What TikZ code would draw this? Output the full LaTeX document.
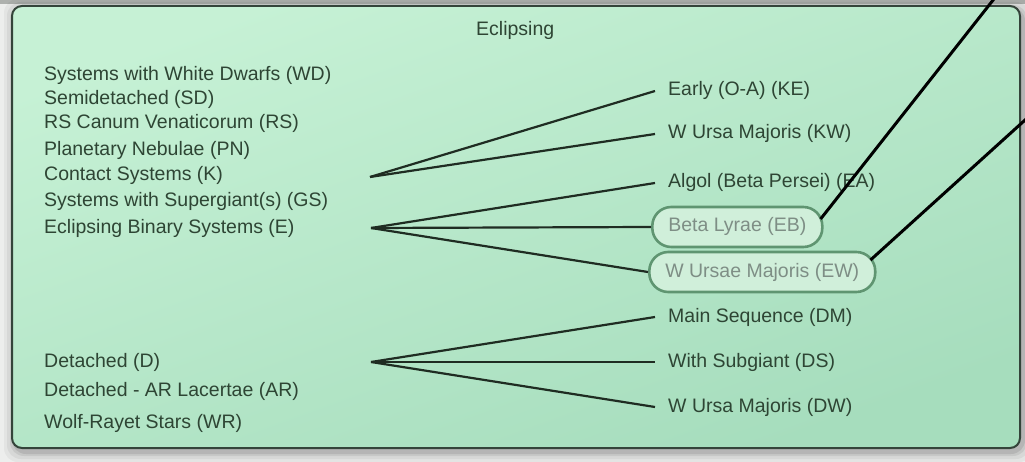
\documentclass[tikz,border=0pt]{standalone}
\usepackage{fontspec}
\setmainfont{Liberation Sans}
\definecolor{pagebg}{HTML}{EDEEED}
\definecolor{topband}{HTML}{AEB1AE}
\definecolor{panelTop}{HTML}{C6F1D5}
\definecolor{panelBot}{HTML}{A6DDBD}
\definecolor{panelEdge}{HTML}{34443A}
\definecolor{txt}{HTML}{2E4534}
\definecolor{conncol}{HTML}{1F2C22}
\definecolor{pillfill}{HTML}{D0EFDA}
\definecolor{pilledge}{HTML}{5F9571}
\definecolor{pilltxt}{HTML}{7E8E85}
\tikzset{
  lbl/.style={anchor=west, inner sep=0pt, text=txt,
    font=\fontsize{19.5}{22}\selectfont, text height=14pt, text depth=4pt},
  pill/.style={lbl, draw=pilledge, line width=2.6pt, fill=pillfill,
    rounded corners=19pt, minimum height=40pt, inner xsep=16pt, text=pilltxt},
  conn/.style={draw=conncol, line width=2.2pt},
  leader/.style={draw=black, line width=3pt}
}
\begin{document}
\begin{tikzpicture}[x=1pt,y=-1pt]
\useasboundingbox (0,0) rectangle (1025,462);
\clip (0,0) rectangle (1025,462);
% page and soft shadow behind the panel
\fill[pagebg] (0,0) rectangle (1025,462);
\fill[topband] (0,0) rectangle (1025,4);
\foreach \i/\o in {10/0.04,7/0.05,4/0.07,2/0.09}
  \fill[black,opacity=\o,rounded corners=14pt] ({14-\i},{9-\i}) rectangle ({1023+\i},{452+\i});
% panel
\shade[top color=panelTop, bottom color=panelBot, shading angle=20, rounded corners=10pt]
  (12,6) rectangle (1020,448);
\draw[panelEdge, line width=2pt, rounded corners=10pt] (12,6) rectangle (1020,448);

\node[lbl] (title) at (476,31) {Eclipsing};

% left column
\node[lbl] (wd) at (44,76) {Systems with White Dwarfs (WD)};
\node[lbl] (sd) at (44,100) {Semidetached (SD)};
\node[lbl] (rs) at (44,124) {RS Canum Venaticorum (RS)};
\node[lbl] (pn) at (44,151) {Planetary Nebulae (PN)};
\node[lbl] (k)  at (44,176) {Contact Systems (K)};
\node[lbl] (gs) at (44,202) {Systems with Supergiant(s) (GS)};
\node[lbl] (e)  at (44,229) {Eclipsing Binary Systems (E)};
\node[lbl] (d)  at (44,362) {Detached (D)};
\node[lbl] (ar) at (44,391) {Detached - AR Lacertae (AR)};
\node[lbl] (wr) at (44,423) {Wolf-Rayet Stars (WR)};

% right column
\node[lbl] (ke) at (668,91) {Early (O-A) (KE)};
\node[lbl] (kw) at (668,134) {W Ursa Majoris (KW)};
\node[lbl] (ea) at (668,183) {Algol (Beta Persei) (EA)};
\node[pill] (eb) at (651,227) {Beta Lyrae (EB)};
\node[pill] (ew) at (648,272) {W Ursae Majoris (EW)};
\node[lbl] (dm) at (668,317) {Main Sequence (DM)};
\node[lbl] (ds) at (668,362) {With Subgiant (DS)};
\node[lbl] (dw) at (668,407) {W Ursa Majoris (DW)};

% branch points
\coordinate (hk) at (370,177);
\coordinate (he) at (371,228);
\coordinate (hd) at (371,362);

\draw[conn] (hk) -- ([xshift=-13pt]ke.west);
\draw[conn] (hk) -- ([xshift=-13pt]kw.west);
\draw[conn] (he) -- ([xshift=-13pt]ea.west);
\draw[conn] (he) -- (eb.west);
\draw[conn] (he) -- (ew.west);
\draw[conn] (hd) -- ([xshift=-13pt]dm.west);
\draw[conn] (hd) -- ([xshift=-13pt]ds.west);
\draw[conn] (hd) -- ([xshift=-13pt]dw.west);

% leaders running off the panel
\coordinate (ebout) at (1001,-10);
\coordinate (ewout) at (1035,111);
\draw[leader] ([xshift=-3pt,yshift=8pt]eb.east) -- (ebout);
\draw[leader] ([xshift=-6pt,yshift=12pt]ew.east) -- (ewout);
\end{tikzpicture}
\end{document}
